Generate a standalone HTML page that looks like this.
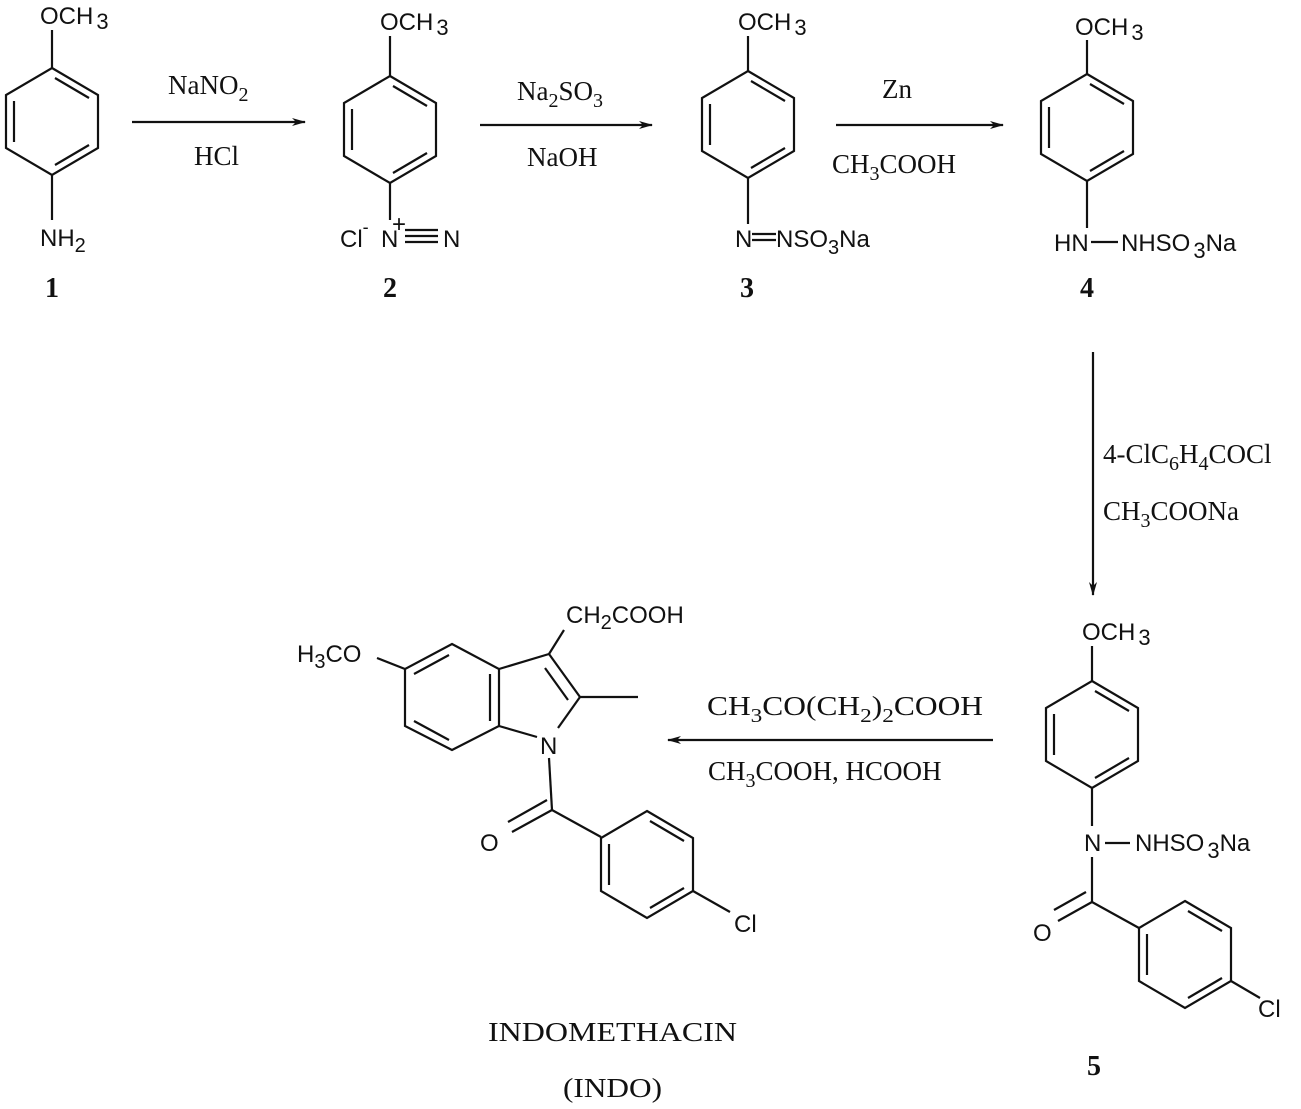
<!DOCTYPE html>
<html><head><meta charset="utf-8"><style>
html,body{margin:0;padding:0;background:#fff;}
svg{display:block;}
.s{font-family:"Liberation Sans",sans-serif;font-size:24px;fill:#111;}
.r{font-family:"Liberation Serif",serif;font-size:27px;fill:#111;}
.b{font-family:"Liberation Serif",serif;font-size:28px;font-weight:bold;fill:#111;}
line,polyline,polygon,path{stroke:#111;stroke-width:2.2;fill:none;}
</style></head><body>
<svg width="1301" height="1109" viewBox="0 0 1301 1109" xmlns="http://www.w3.org/2000/svg">
<defs>
<g id="ring">
<polygon points="0,0 46,27 46,80 0,107 -46,80 -46,27"/>
<line x1="3" y1="10" x2="37" y2="30"/>
<line x1="-38" y1="33" x2="-38" y2="74"/>
<line x1="37" y1="77" x2="3" y2="97"/>
</g>
<marker id="ah" markerWidth="14" markerHeight="10" refX="13" refY="5" orient="auto" markerUnits="userSpaceOnUse">
<path d="M0,1 L14,5 L0,9 L4,5 Z" style="fill:#111;stroke:none"/>
</marker>
</defs>

<!-- Compound 1 -->
<use href="#ring" x="52" y="68"/>
<line x1="52" y1="68" x2="52" y2="30"/>
<line x1="52" y1="175" x2="52" y2="220"/>
<text class="s" x="40" y="24">OCH<tspan font-size="22" dy="5" dx="3">3</tspan></text>
<text class="s" x="40" y="246">NH<tspan font-size="20" dy="6">2</tspan></text>
<text class="b" x="45" y="297">1</text>

<!-- Arrow 1 -->
<line x1="132" y1="122" x2="305" y2="122" marker-end="url(#ah)"/>
<text class="r" x="168" y="94">NaNO<tspan font-size="20" dy="7">2</tspan></text>
<text class="r" x="194" y="165">HCl</text>

<!-- Compound 2 -->
<use href="#ring" x="390" y="76"/>
<line x1="390" y1="76" x2="390" y2="36"/>
<line x1="390" y1="183" x2="390" y2="220"/>
<text class="s" x="380" y="30">OCH<tspan font-size="22" dy="5" dx="3">3</tspan></text>
<text class="s" x="340" y="247">Cl<tspan font-size="18" dy="-14">-</tspan></text>
<text class="s" x="381" y="247">N</text>
<text class="s" x="392" y="232" font-size="17">+</text>
<line x1="405" y1="230" x2="438" y2="230"/>
<line x1="405" y1="236" x2="438" y2="236"/>
<line x1="405" y1="242" x2="438" y2="242"/>
<text class="s" x="443" y="247">N</text>
<text class="b" x="383" y="297">2</text>

<!-- Arrow 2 -->
<line x1="480" y1="125" x2="652" y2="125" marker-end="url(#ah)"/>
<text class="r" x="517" y="100">Na<tspan font-size="20" dy="7">2</tspan><tspan dy="-7">SO</tspan><tspan font-size="20" dy="7">3</tspan></text>
<text class="r" x="527" y="166">NaOH</text>

<!-- Compound 3 -->
<use href="#ring" x="748" y="71"/>
<line x1="748" y1="71" x2="748" y2="36"/>
<line x1="748" y1="178" x2="748" y2="224"/>
<text class="s" x="738" y="30">OCH<tspan font-size="22" dy="5" dx="3">3</tspan></text>
<text class="s" x="735" y="247">N</text>
<line x1="752" y1="234" x2="776" y2="234"/>
<line x1="752" y1="240" x2="776" y2="240"/>
<text class="s" x="776" y="247">NSO<tspan font-size="20" dy="7">3</tspan><tspan dy="-7">Na</tspan></text>
<text class="b" x="740" y="297">3</text>

<!-- Arrow 3 -->
<line x1="836" y1="125" x2="1003" y2="125" marker-end="url(#ah)"/>
<text class="r" x="882" y="98">Zn</text>
<text class="r" x="832" y="173">CH<tspan font-size="20" dy="7">3</tspan><tspan dy="-7">COOH</tspan></text>

<!-- Compound 4 -->
<use href="#ring" x="1087" y="74"/>
<line x1="1087" y1="74" x2="1087" y2="40"/>
<line x1="1087" y1="181" x2="1087" y2="228"/>
<text class="s" x="1075" y="35">OCH<tspan font-size="22" dy="5" dx="3">3</tspan></text>
<text class="s" x="1054" y="251">HN</text>
<line x1="1091" y1="242" x2="1118" y2="242"/>
<text class="s" x="1121" y="251">NHSO<tspan font-size="22" dy="7" dx="3">3</tspan><tspan dy="-7">Na</tspan></text>
<text class="b" x="1080" y="297">4</text>

<!-- Down arrow -->
<line x1="1093" y1="352" x2="1093" y2="595" marker-end="url(#ah)"/>
<text class="r" x="1103" y="463">4-ClC<tspan font-size="20" dy="7">6</tspan><tspan dy="-7">H</tspan><tspan font-size="20" dy="7">4</tspan><tspan dy="-7">COCl</tspan></text>
<text class="r" x="1103" y="520">CH<tspan font-size="20" dy="7">3</tspan><tspan dy="-7">COONa</tspan></text>

<!-- Compound 5 -->
<use href="#ring" x="1092" y="681"/>
<line x1="1092" y1="681" x2="1092" y2="646"/>
<line x1="1092" y1="788" x2="1092" y2="826"/>
<text class="s" x="1082" y="640">OCH<tspan font-size="22" dy="5" dx="3">3</tspan></text>
<text class="s" x="1084" y="851">N</text>
<line x1="1105" y1="843" x2="1130" y2="843"/>
<text class="s" x="1135" y="851">NHSO<tspan font-size="22" dy="7" dx="3">3</tspan><tspan dy="-7">Na</tspan></text>
<line x1="1092" y1="857" x2="1092" y2="902"/>
<line x1="1092" y1="902" x2="1058" y2="921"/>
<line x1="1086" y1="892" x2="1054" y2="910"/>
<text class="s" x="1033" y="941">O</text>
<line x1="1092" y1="902" x2="1139" y2="928"/>
<use href="#ring" x="1185" y="901"/>
<line x1="1231" y1="981" x2="1260" y2="998"/>
<text class="s" x="1258" y="1017">Cl</text>
<text class="b" x="1087" y="1075">5</text>

<!-- Left arrow -->
<line x1="993" y1="740" x2="668" y2="740" marker-end="url(#ah)"/>
<text class="r" x="707" y="715" textLength="276" lengthAdjust="spacingAndGlyphs">CH<tspan font-size="20" dy="7">3</tspan><tspan dy="-7">CO(CH</tspan><tspan font-size="20" dy="7">2</tspan><tspan dy="-7">)</tspan><tspan font-size="20" dy="7">2</tspan><tspan dy="-7">COOH</tspan></text>
<text class="r" x="708" y="780">CH<tspan font-size="20" dy="7">3</tspan><tspan dy="-7">COOH, HCOOH</tspan></text>

<!-- Indomethacin -->
<polygon points="452,644 499,669 499,726 452,750 405,726 405,669"/>
<line x1="449" y1="655" x2="414" y2="674"/>
<line x1="414" y1="721" x2="449" y2="740"/>
<line x1="490" y1="674" x2="490" y2="721"/>
<line x1="377" y1="658" x2="405" y2="669"/>
<text class="s" x="297" y="662">H<tspan font-size="20" dy="6">3</tspan><tspan dy="-6">CO</tspan></text>
<line x1="499" y1="669" x2="549" y2="654"/>
<line x1="549" y1="654" x2="580" y2="697"/>
<line x1="545" y1="668" x2="568" y2="700"/>
<line x1="580" y1="697" x2="558" y2="728"/>
<line x1="499" y1="726" x2="537" y2="737"/>
<line x1="580" y1="697" x2="638" y2="697"/>
<line x1="549" y1="654" x2="564" y2="630"/>
<text class="s" x="566" y="623">CH<tspan font-size="20" dy="6">2</tspan><tspan dy="-6">COOH</tspan></text>
<text class="s" x="540" y="754">N</text>
<line x1="549" y1="758" x2="552" y2="810"/>
<line x1="552" y1="810" x2="512" y2="832"/>
<line x1="547" y1="800" x2="508" y2="822"/>
<text class="s" x="480" y="851">O</text>
<line x1="552" y1="810" x2="601" y2="837"/>
<use href="#ring" x="647" y="811"/>
<line x1="693" y1="891" x2="730" y2="912"/>
<text class="s" x="734" y="932">Cl</text>

<text class="r" x="488" y="1041" textLength="249" lengthAdjust="spacingAndGlyphs">INDOMETHACIN</text>
<text class="r" x="563" y="1097" textLength="99" lengthAdjust="spacingAndGlyphs">(INDO)</text>
</svg>
</body></html>
